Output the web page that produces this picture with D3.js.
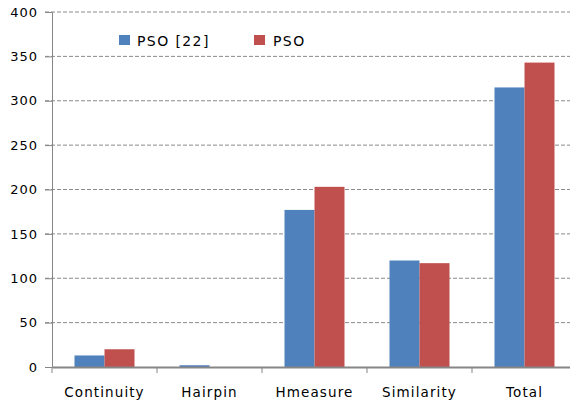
<!DOCTYPE html>
<html><head><meta charset="utf-8">
<script src="https://cdn.jsdelivr.net/npm/d3@7/dist/d3.min.js"></script>
<style>body{margin:0;background:#fff}svg{display:block}text{font-family:"DejaVu Sans",Verdana,sans-serif;fill:#000}</style>
</head><body><svg id="c" width="570" height="404"></svg>
<script>
const categories = ["Continuity","Hairpin","Hmeasure","Similarity","Total"];
const seriesNames = ["PSO [22]","PSO"];
const pso22 = [13, 2, 177, 120, 315];
const pso = [20, 0, 203, 117, 343];
const yTicks = [0,50,100,150,200,250,300,350,400];
const colors = ["#4F81BD","#C0504D"];

const svg = d3.select("#c");
const L = 52, R = 577, T = 12, B = 367;
const x = d3.scaleBand().domain(categories).range([L,R]);
const y = d3.scaleLinear().domain([0,400]).range([B,T]);
const sub = d3.scaleBand().domain([0,1]).range([0, 60]);

// grid
svg.append("g").selectAll("line").data(yTicks.filter(d=>d>0)).join("line")
  .attr("x1",45).attr("x2",R).attr("y1",d=>y(d)).attr("y2",d=>y(d))
  .attr("stroke","#8a8a8a").attr("stroke-width",1).attr("stroke-dasharray","4,2");

// bars
const series = [pso22, pso];
series.forEach((vals,si)=>{
  svg.append("g").selectAll("rect").data(categories).join("rect")
    .attr("x",(c)=>x(c)+x.bandwidth()/2-30+sub(si))
    .attr("y",(c,i)=>y(vals[i]))
    .attr("width",sub.bandwidth())
    .attr("height",(c,i)=>B-y(vals[i]))
    .attr("fill",colors[si]);
});

// y axis
const ya = svg.append("g").attr("transform",`translate(${L},0)`)
  .call(d3.axisLeft(y).tickValues(yTicks).tickSize(7).tickPadding(7));
ya.select(".domain").attr("stroke","#868686");
ya.selectAll(".tick line").attr("stroke","#868686");
ya.selectAll(".tick text").attr("font-size",13).attr("letter-spacing",1).attr("font-family","DejaVu Sans").attr("fill","#000");

// x axis
const xa = svg.append("g").attr("transform",`translate(0,${B})`)
  .call(d3.axisBottom(x).tickSize(0).tickPadding(20));
xa.select(".domain").attr("stroke","#868686").attr("stroke-width",2);
xa.selectAll(".tick text").attr("font-size",13.5).attr("letter-spacing",1.1).attr("font-family","DejaVu Sans").attr("fill","#000");
svg.append("g").selectAll("line").data(d3.range(categories.length)).join("line")
  .attr("x1",(d)=>L+d*x.step()).attr("x2",(d)=>L+d*x.step())
  .attr("y1",B).attr("y2",B+6).attr("stroke","#868686");

// legend
const leg = [[119,137],[254,273]];
seriesNames.forEach((n,i)=>{
  svg.append("rect").attr("x",leg[i][0]).attr("y",35).attr("width",11).attr("height",10).attr("fill",colors[i]);
  svg.append("text").attr("x",leg[i][1]).attr("y",46).attr("font-size",14).attr("letter-spacing",1.4).text(n);
});
</script></body></html>
